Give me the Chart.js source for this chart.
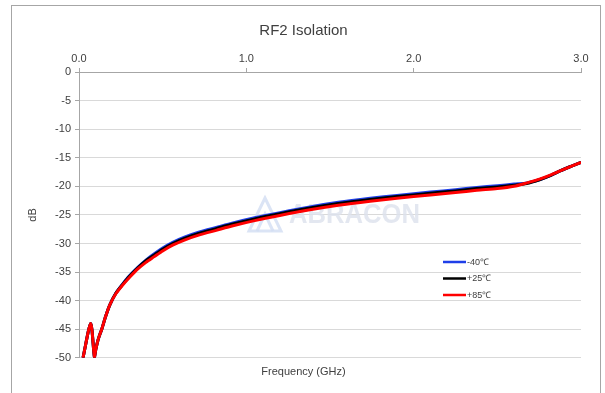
<!DOCTYPE html>
<html>
<head>
<meta charset="utf-8">
<script src="https://cdn.jsdelivr.net/npm/chart.js@4.4.1/dist/chart.umd.min.js"></script>
<style>
    html, body { margin: 0; padding: 0; background: #fff; }
    canvas { display: block; }
</style>
</head>
<body>
<canvas id="chart" width="605" height="393"></canvas>
<script>
// frequency points (GHz)
const freq = [0.024, 0.07, 0.092, 0.10, 0.11, 0.12, 0.136, 0.16, 0.185, 0.22, 0.26, 0.30, 0.35, 0.40, 0.45, 0.50, 0.56, 0.63, 0.72, 0.82, 0.92, 1.05, 1.2, 1.38, 1.55, 1.74, 1.9, 2.1, 2.25, 2.377, 2.5, 2.6, 2.676, 2.756, 2.82, 2.875, 2.94, 3.0];
// isolation (dB) per temperature
const isoM40 = [-50, -44.0, -49.8, -48.6, -47.3, -46.3, -45, -42.7, -40.7, -38.7, -37.1, -35.7, -34.2, -32.9, -31.8, -30.8, -29.8, -28.9, -28.0, -27.2, -26.4, -25.5, -24.6, -23.6, -22.8, -22.1, -21.6, -21.0, -20.6, -20.2, -19.9, -19.6, -19.4, -18.8, -18.1, -17.3, -16.5, -15.8];
const isoP25 = [-50, -44.0, -49.8, -48.6, -47.3, -46.3, -45, -42.7, -40.7, -38.7, -37.2, -35.8, -34.3, -33.0, -32.0, -31.0, -30.0, -29.1, -28.2, -27.4, -26.6, -25.7, -24.8, -23.8, -23.0, -22.3, -21.8, -21.2, -20.8, -20.4, -20.1, -19.8, -19.5, -18.8, -18.1, -17.3, -16.5, -15.8];
const isoP85 = [-50, -44.0, -49.8, -48.6, -47.3, -46.3, -45, -42.7, -40.7, -38.8, -37.3, -36.0, -34.5, -33.3, -32.3, -31.3, -30.3, -29.4, -28.5, -27.7, -26.9, -26.0, -25.1, -24.1, -23.3, -22.6, -22.1, -21.5, -21.1, -20.7, -20.4, -20.0, -19.4, -18.7, -18.0, -17.3, -16.5, -15.8];
const seriesLabels = ["-40\u2103", "+25\u2103", "+85\u2103"];
const seriesColors = ["#1f3fe8", "#000000", "#ff0000"];
const xTicks = [0, 1, 2, 3];

const textColor = "#404040";
const fontFamily = "'Liberation Sans', Arial, sans-serif";

const toPoints = ys => freq.map((f, i) => ({ x: f, y: ys[i] }));

// outer frame + watermark + custom legend
const decorPlugin = {
    id: "decor",
    beforeDraw(chart) {
        const ctx = chart.ctx;
        ctx.save();
        ctx.fillStyle = "#fff";
        ctx.fillRect(0, 0, chart.width, chart.height);
        ctx.strokeStyle = "#a6a6a6";
        ctx.lineWidth = 1;
        ctx.strokeRect(11.5, 5.5, 589, 400);
        ctx.restore();
    },
    beforeDatasetsDraw(chart) {
        const ctx = chart.ctx;
        ctx.save();
        ctx.strokeStyle = "rgba(210,221,242,0.8)";
        ctx.lineWidth = 3;
        ctx.beginPath();
        ctx.moveTo(249, 231); ctx.lineTo(265, 198); ctx.lineTo(281, 231); ctx.closePath();
        ctx.stroke();
        ctx.beginPath();
        ctx.moveTo(257, 231); ctx.lineTo(265, 214); ctx.lineTo(273, 231);
        ctx.stroke();
        ctx.fillStyle = "rgba(220,225,236,0.8)";
        ctx.font = "bold 27px " + fontFamily;
        ctx.textBaseline = "alphabetic";
        ctx.fillText("ABRACON", 289, 223, 131);
        ctx.restore();
    },
    afterDatasetsDraw(chart) {
        const ctx = chart.ctx;
        ctx.save();
        ctx.font = "9px " + fontFamily;
        ctx.textBaseline = "middle";
        chart.data.datasets.forEach((ds, i) => {
            const y = 262 + i * 16.5;
            ctx.strokeStyle = ds.borderColor;
            ctx.lineWidth = 2.5;
            ctx.beginPath();
            ctx.moveTo(443, y); ctx.lineTo(466, y);
            ctx.stroke();
            ctx.fillStyle = textColor;
            ctx.fillText(ds.label, 467, y + 0.5);
        });
        ctx.restore();
    }
};

const datasets = [isoM40, isoP25, isoP85].map((ys, i) => ({
    label: seriesLabels[i],
    data: toPoints(ys),
    borderColor: seriesColors[i],
    backgroundColor: seriesColors[i],
    borderWidth: 3,
    pointRadius: 0,
    tension: 0.25,
    order: 2 - i,
    fill: false
}));

new Chart(document.getElementById("chart"), {
    type: "line",
    data: { datasets },
    plugins: [decorPlugin],
    options: {
        responsive: false,
        animation: false,
        layout: { padding: { top: 12, left: 26, right: 24, bottom: 14 } },
        plugins: {
            legend: { display: false },
            tooltip: { enabled: false },
            title: {
                display: true,
                text: "RF2 Isolation",
                color: textColor,
                font: { family: fontFamily, size: 15, weight: "normal" },
                padding: { top: 10, bottom: 10 }
            },
            subtitle: {
                display: true,
                position: "bottom",
                text: "Frequency (GHz)",
                color: textColor,
                font: { family: fontFamily, size: 11 },
                padding: { top: 8, bottom: 0 }
            }
        },
        scales: {
            x: {
                type: "linear",
                position: "top",
                min: 0,
                max: 3,
                afterBuildTicks: scale => { scale.ticks = xTicks.map(v => ({ value: v })); },
                afterFit: scale => { scale.height = 22; },
                ticks: {
                    color: textColor,
                    font: { family: fontFamily, size: 11 },
                    padding: 2,
                    callback: v => Number(v).toFixed(1)
                },
                grid: { drawOnChartArea: false, drawTicks: true, tickLength: 4, color: "#a6a6a6" },
                border: { color: "#a6a6a6" }
            },
            y: {
                min: -50,
                max: 0,
                afterFit: scale => { scale.width = 53; },
                ticks: {
                    stepSize: 5,
                    color: textColor,
                    font: { family: fontFamily, size: 11 },
                    padding: 4
                },
                title: {
                    display: true,
                    text: "dB",
                    color: textColor,
                    font: { family: fontFamily, size: 11 },
                    padding: 0
                },
                grid: { color: "#d9d9d9", tickLength: 4, tickColor: "#a6a6a6" },
                border: { color: "#a6a6a6" }
            }
        }
    }
});
</script>
</body>
</html>
